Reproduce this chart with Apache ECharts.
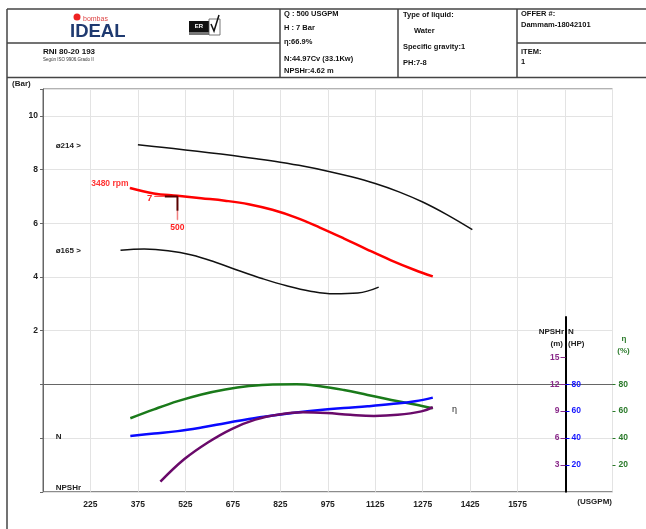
<!DOCTYPE html>
<html><head><meta charset="utf-8">
<script src="https://cdn.jsdelivr.net/npm/echarts@6.0.0/dist/echarts.min.js"></script>
<style>html,body{margin:0;padding:0;background:#fff}#c{width:646px;height:529px}</style>
</head><body><div id="c"></div>
<script>
const F = 'Liberation Sans, Arial, sans-serif';

// axes / tick labels
const qMin = 75, qMax = 1875, qStep = 150;
const qLabels = [225, 375, 525, 675, 825, 975, 1125, 1275, 1425, 1575];
const barMin = -4, barMax = 11, barStep = 2;
const barLabels = [2, 4, 6, 8, 10];
const npshMax = 19.5, npshLabels = [3, 6, 9, 12, 15];
const hpMax = 130, hpLabels = [20, 40, 60, 80];
const effMax = 130, effLabels = [20, 40, 60, 80];

// impeller ø214 (Bar)
const d214Q = [375, 450, 525, 600, 675, 750, 825, 900, 975, 1050, 1125, 1200, 1275, 1350, 1432];
const d214H = [8.92, 8.83, 8.73, 8.63, 8.52, 8.40, 8.27, 8.12, 7.94, 7.73, 7.48, 7.17, 6.79, 6.33, 5.76];
// impeller ø165 (Bar)
const d165Q = [320, 395, 470, 545, 620, 695, 770, 845, 920, 995, 1070, 1136];
const d165H = [4.99, 5.04, 4.98, 4.82, 4.55, 4.23, 3.93, 3.67, 3.47, 3.37, 3.40, 3.62];
// 3480 rpm duty curve (Bar)
const rpmQ = [350, 425, 500, 575, 650, 725, 800, 875, 950, 1025, 1100, 1175, 1250, 1307];
const rpmH = [7.31, 7.11, 7.02, 6.93, 6.84, 6.71, 6.50, 6.21, 5.84, 5.44, 5.02, 4.62, 4.26, 4.02];
// efficiency (%)
const effQ = [351, 426, 501, 576, 651, 726, 801, 876, 951, 1026, 1101, 1176, 1251, 1307];
const effV = [54.7, 61.3, 67.4, 72.4, 76.1, 78.6, 79.8, 79.9, 78.5, 75.7, 72.0, 68.3, 64.9, 62.1];
// power N (HP)
const powQ = [351, 426, 501, 576, 651, 726, 801, 876, 951, 1026, 1101, 1176, 1251, 1307];
const powV = [41.5, 43.3, 45.1, 47.8, 51.0, 54.2, 56.8, 59.0, 60.8, 62.3, 63.6, 65.2, 67.3, 70.0];
// NPSHr (m)
const npQ = [446, 521, 596, 671, 746, 821, 896, 971, 1046, 1121, 1196, 1271, 1307];
const npV = [1.12, 3.62, 5.50, 7.00, 8.05, 8.62, 8.86, 8.78, 8.58, 8.46, 8.58, 8.97, 9.43];
// duty point
const opQ = 500, opH = 7;
const opMarkQ = [428, 460];     // horizontal guide start (light) / dark start
const opMarkH = [6.47, 6.13];   // vertical guide dark end / light end

const zip = (a, b) => a.map((v, i) => [v, b[i]]);
const bold = (s) => 'bold ' + s + 'px ' + F;

const chart = echarts.init(document.getElementById('c'), null, {renderer: 'canvas'});

const lbl = {fontFamily: F, fontWeight: 'bold', fontSize: 8.5, color: '#222'};

const line = (x1, y1, x2, y2, w, c) => ({type: 'line', silent: true, shape: {x1, y1, x2, y2}, style: {stroke: c || '#444', lineWidth: w || 1.5}});
const txt = (t, x, y, font, fill, align) => ({type: 'text', silent: true, z: 10, style: {text: t, x, y, font, fill: fill || '#111', textAlign: align || 'left', textVerticalAlign: 'middle'}});

const graphics = [
  // frame
  line(7, 9, 646, 9), line(7, 9, 7, 529), line(7, 77.5, 646, 77.5),
  line(7, 43, 280, 43), line(517, 43, 646, 43),
  line(280, 9, 280, 77.5), line(398, 9, 398, 77.5), line(517, 9, 517, 77.5),
  // logo
  {type: 'circle', silent: true, shape: {cx: 77, cy: 17, r: 3.5}, style: {fill: '#e22'}},
  txt('bombas', 83, 19, '7px ' + F, '#d44'),
  txt('IDEAL', 70, 32, bold(18.5), '#1f3a70'),
  {type: 'rect', silent: true, shape: {x: 189, y: 21, width: 20, height: 11}, style: {fill: '#111'}},
  txt('ER', 199, 26.5, bold(6), '#fff', 'center'),
  {type: 'rect', silent: true, shape: {x: 189, y: 32, width: 20, height: 3}, style: {fill: '#777'}},
  {type: 'rect', silent: true, shape: {x: 209, y: 19, width: 11, height: 16}, style: {fill: 'none', stroke: '#555', lineWidth: 0.8}},
  {type: 'polyline', silent: true, shape: {points: [[211, 24], [214, 31], [219, 15]]}, style: {stroke: '#111', lineWidth: 1.5, fill: 'none'}},
  // header texts
  txt('RNI 80-20 193', 43, 51.5, bold(8)),
  txt('Según ISO 9906.Grado II', 43, 60, '4.5px ' + F, '#333'),
  txt('Q : 500 USGPM', 284, 14, bold(7.5)),
  txt('H : 7 Bar', 284, 28, bold(7.5)),
  txt('η:66.9%', 284, 41.5, bold(7.5)),
  txt('N:44.97Cv (33.1Kw)', 284, 59, bold(7.5)),
  txt('NPSHr:4.62 m', 284, 71, bold(7.5)),
  txt('Type of liquid:', 403, 15, bold(7.5)),
  txt('Water', 414, 30.5, bold(7.5)),
  txt('Specific gravity:1', 403, 46.5, bold(7.5)),
  txt('PH:7-8', 403, 63, bold(7.5)),
  txt('OFFER #:', 521, 14, bold(7.5)),
  txt('Dammam-18042101', 521, 25, bold(7.5)),
  txt('ITEM:', 521, 51.5, bold(7.5)),
  txt('1', 521, 62, bold(7.5)),
  // chart labels
  txt('(Bar)', 12, 84, bold(8), '#222'),
  txt('ø214 >', 55.7, 145.3, bold(8), '#222'),
  txt('ø165 >', 55.7, 250.7, bold(8), '#222'),
  txt('N', 55.7, 436.7, bold(8), '#222'),
  txt('NPSHr', 55.7, 487.3, bold(8), '#222'),
  txt('η', 452, 410, '9px ' + F, '#222'),
  txt('(USGPM)', 612, 502, bold(8), '#222', 'right'),
  txt('NPSHr', 564, 332, bold(8), '#222', 'right'),
  txt('(m)', 563, 344, bold(8), '#222', 'right'),
  txt('N', 568, 332, bold(8), '#222'),
  txt('(HP)', 568, 344, bold(8), '#222'),
  txt('η', 624, 339, bold(8), '#2a7a2a', 'center'),
  txt('(%)', 623.5, 351, bold(8), '#2a7a2a', 'center')
];

const curve = (name, xi, yi, data, color, width) => ({
  name, type: 'line', xAxisIndex: xi, yAxisIndex: yi, data, smooth: 0.4,
  showSymbol: false, symbol: 'none', silent: true,
  lineStyle: {color, width}, z: 3
});

const option = {
  animation: false,
  backgroundColor: '#fff',
  textStyle: {fontFamily: F},
  grid: [
    {left: 43, right: 33.5, top: 89, bottom: 37.25, show: true, borderColor: '#666', borderWidth: 1, outerBoundsMode: 'none'},
    {left: 43, right: 33.5, top: 317, bottom: 37.25, show: false, outerBoundsMode: 'none'}
  ],
  xAxis: [
    {gridIndex: 0, type: 'value', min: qMin, max: qMax, interval: qStep,
     axisLine: {show: true, lineStyle: {color: '#666'}}, axisTick: {show: false},
     axisLabel: Object.assign({margin: 8, formatter: v => qLabels.includes(v) ? String(v) : ''}, lbl),
     splitLine: {show: true, lineStyle: {color: '#e3e3e3'}}},
    {gridIndex: 1, type: 'value', min: qMin, max: qMax, show: false}
  ],
  yAxis: [
    {gridIndex: 0, type: 'value', min: barMin, max: barMax, interval: barStep,
     axisLine: {show: true, lineStyle: {color: '#666'}},
     axisTick: {show: true, length: 3, lineStyle: {color: '#666'}},
     axisLabel: Object.assign({margin: 5, formatter: v => barLabels.includes(v) ? String(v) : ''}, lbl),
     splitLine: {show: true, lineStyle: {color: '#e3e3e3'}}},
    {gridIndex: 1, type: 'value', position: 'right', offset: -47, min: 0, max: npshMax,
     axisLine: {show: true, onZero: false, lineStyle: {color: '#000', width: 2}},
     axisTick: {show: true, inside: true, length: 5, customValues: npshLabels, lineStyle: {color: '#8a2a8a'}},
     axisLabel: Object.assign({}, lbl, {inside: true, margin: 6, customValues: npshLabels, color: '#8a2a8a'}),
     splitLine: {show: false}},
    {gridIndex: 1, type: 'value', position: 'right', offset: -47, min: 0, max: hpMax,
     axisLine: {show: false},
     axisTick: {show: true, length: 4, customValues: hpLabels, lineStyle: {color: '#0000ff'}},
     axisLabel: Object.assign({}, lbl, {margin: 6, customValues: hpLabels, color: '#1515ff'}),
     splitLine: {show: false}},
    {gridIndex: 1, type: 'value', position: 'right', offset: 0, min: 0, max: effMax,
     axisLine: {show: false},
     axisTick: {show: true, length: 3, customValues: effLabels, lineStyle: {color: '#2a7a2a'}},
     axisLabel: Object.assign({}, lbl, {margin: 6, customValues: effLabels, color: '#2a7a2a'}),
     splitLine: {show: false}}
  ],
  graphic: graphics,
  series: [
    curve('ø214', 0, 0, zip(d214Q, d214H), '#111', 1.5),
    curve('ø165', 0, 0, zip(d165Q, d165H), '#111', 1.5),
    curve('3480 rpm', 0, 0, zip(rpmQ, rpmH), '#ff0000', 2.5),
    curve('η', 1, 3, zip(effQ, effV), '#1a7a1a', 2.5),
    curve('N', 1, 2, zip(powQ, powV), '#0a0aff', 2.5),
    curve('NPSHr', 1, 1, zip(npQ, npV), '#6a0a6a', 2.5),
    // duty point guides
    {type: 'line', xAxisIndex: 0, yAxisIndex: 0, silent: true, z: 4, symbol: 'circle', symbolSize: 1,
     itemStyle: {color: '#ff5050'}, lineStyle: {color: '#ff5050', width: 1.2},
     data: [{value: [opMarkQ[0], opH], label: {show: true, position: 'left', distance: 2, formatter: String(opH), color: '#ff2020', fontFamily: F, fontWeight: 'bold', fontSize: 9.5, offset: [0, 2]}},
            {value: [opMarkQ[1], opH]}]},
    {type: 'line', xAxisIndex: 0, yAxisIndex: 0, silent: true, z: 5, symbol: 'none',
     lineStyle: {color: '#5a0000', width: 2},
     data: [[opMarkQ[1], opH], [opQ, opH], [opQ, opMarkH[0]]]},
    {type: 'line', xAxisIndex: 0, yAxisIndex: 0, silent: true, z: 4, symbol: 'circle', symbolSize: 1,
     itemStyle: {color: '#f08080'}, lineStyle: {color: '#f08080', width: 1.5},
     data: [[opQ, opMarkH[0]],
            {value: [opQ, opMarkH[1]], label: {show: true, position: 'bottom', distance: 3, formatter: String(opQ), color: '#ff2020', fontFamily: F, fontWeight: 'bold', fontSize: 8.5}}]},
    {type: 'scatter', xAxisIndex: 0, yAxisIndex: 0, silent: true, symbolSize: 1, itemStyle: {color: '#ff0000'},
     data: [{value: [rpmQ[0], rpmH[0]], label: {show: true, position: 'left', distance: 1, offset: [0, -4], formatter: '3480 rpm', color: '#ff0000', fontFamily: F, fontWeight: 'bold', fontSize: 8.5}}]}
  ]
};
chart.setOption(option);
</script>
</body></html>
